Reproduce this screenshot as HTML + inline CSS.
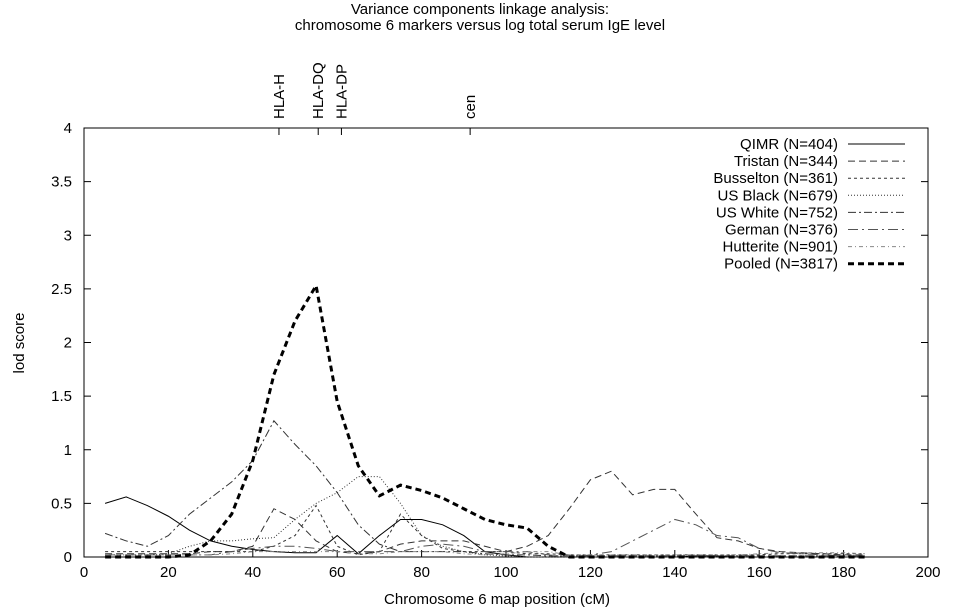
<!DOCTYPE html>
<html><head><meta charset="utf-8"><style>
body{margin:0;background:#fff}
svg{display:block;font-family:"Liberation Sans",sans-serif}
</style></head><body>
<svg id="c" width="960" height="609"></svg>
<script>
const positions=[5,10,15,20,25,30,35,40,45,50,55,60,65,70,75,80,85,90,95,100,105,110,115,120,125,130,135,140,145,150,155,160,165,170,175,180,185];
const qimr=[0.5,0.56,0.48,0.38,0.25,0.15,0.1,0.07,0.05,0.04,0.04,0.2,0.03,0.2,0.35,0.35,0.3,0.2,0.05,0.02,0,0,0,0,0,0,0,0,0.01,0.01,0,0,0,0,0,0,0];
const tristan=[0.03,0.03,0.03,0.03,0.03,0.05,0.05,0.1,0.45,0.35,0.15,0.05,0.03,0.05,0.12,0.15,0.15,0.15,0.1,0.05,0.1,0.2,0.45,0.72,0.8,0.58,0.63,0.63,0.4,0.18,0.15,0.08,0.05,0.04,0.03,0.02,0.02];
const busselton=[0.05,0.05,0.05,0.05,0.05,0.05,0.05,0.05,0.1,0.2,0.48,0.1,0.02,0.05,0.4,0.2,0.08,0.05,0.05,0.05,0.03,0.03,0.02,0.02,0.02,0.02,0.02,0.02,0.02,0.02,0.02,0.02,0.03,0.03,0.03,0.03,0.03];
const usBlack=[0.02,0.02,0.02,0.03,0.1,0.15,0.15,0.17,0.18,0.35,0.5,0.6,0.75,0.75,0.5,0.2,0.1,0.05,0.02,0.01,0,0,0,0,0,0,0,0,0,0,0,0,0,0,0,0,0];
const usWhite=[0.22,0.15,0.1,0.2,0.4,0.55,0.7,0.9,1.27,1.05,0.85,0.6,0.3,0.12,0.05,0.05,0.05,0.05,0.03,0.02,0.02,0.01,0.01,0.01,0.01,0.01,0.01,0.01,0.01,0.01,0.01,0.01,0.01,0.01,0.01,0.01,0.01];
const german=[0.02,0.02,0.02,0.02,0.02,0.02,0.05,0.08,0.1,0.1,0.08,0.05,0.05,0.05,0.05,0.1,0.12,0.1,0.05,0.05,0.05,0.02,0,0.02,0.05,0.15,0.25,0.35,0.3,0.2,0.18,0.08,0.04,0.03,0.02,0.01,0.01];
const hutterite=[0.02,0.02,0.02,0.02,0.02,0.02,0.03,0.05,0.05,0.05,0.05,0.05,0.03,0.03,0.05,0.05,0.05,0.03,0.02,0.03,0.05,0.05,0.02,0.02,0.02,0.02,0.02,0.02,0.02,0.02,0.02,0.03,0.04,0.04,0.04,0.04,0.03];
const pooled=[0,0,0,0,0.02,0.15,0.4,0.9,1.7,2.2,2.53,1.45,0.85,0.57,0.67,0.62,0.55,0.45,0.35,0.3,0.27,0.1,0,0,0,0,0,0,0,0,0,0,0,0,0,0,0];
const seriesNames=["QIMR (N=404)","Tristan (N=344)","Busselton (N=361)","US Black (N=679)","US White (N=752)","German (N=376)","Hutterite (N=901)","Pooled (N=3817)"];
const xTicks=[0,20,40,60,80,100,120,140,160,180,200];
const yTicks=[0,0.5,1,1.5,2,2.5,3,3.5,4];
const yTickLabels=["0","0.5","1","1.5","2","2.5","3","3.5","4"];
const markerNames=["HLA-H","HLA-DQ","HLA-DP","cen"];
const markerPos=[46.2,55.5,61,91.5];

const L=84,R=928,T=128,B=557;
const X=v=>L+(v-0)/200*(R-L);
const Y=v=>B-(v-0)/4*(B-T);
const svg=document.getElementById('c');
const NS="http://www.w3.org/2000/svg";
function mk(tag,attrs,parent){const e=document.createElementNS(NS,tag);for(const k in attrs)e.setAttribute(k,attrs[k]);(parent||svg).appendChild(e);return e;}
function txt(s,x,y,anchor,size,extra){const t=mk('text',Object.assign({x:x,y:y,'text-anchor':anchor,'font-size':size,fill:'#000'},extra||{}));t.textContent=s;return t;}

let t;
t=txt("Variance components linkage analysis:",480,14,'middle',15);

t=txt("chromosome 6 markers versus log total serum IgE level",480,30,'middle',15);


const frame=mk('rect',{x:L,y:T,width:R-L,height:B-T,fill:'none',stroke:'#000','stroke-width':1});


xTicks.forEach((v,i)=>{
  const l=mk('line',{x1:X(v),x2:X(v),y1:B,y2:B-7,stroke:'#000'});
  
  const s=txt(String(v),X(v),B+20,'middle',15);
  
});
yTicks.forEach((v,i)=>{
  const l=mk('line',{x1:L,x2:L+7,y1:Y(v),y2:Y(v),stroke:'#000'});
  
  const l2=mk('line',{x1:R,x2:R-7,y1:Y(v),y2:Y(v),stroke:'#000'});
  
  const s=txt(yTickLabels[i],72,Y(v)+5,'end',15);
  
});
markerPos.forEach((p,i)=>{
  const l=mk('line',{x1:X(p),x2:X(p),y1:T,y2:T+7,stroke:'#000'});
  
  const s=txt(markerNames[i],X(p)+5,T-9,'start',15,{transform:`rotate(-90 ${X(p)+5} ${T-9})`});
  
});
t=txt("Chromosome 6 map position (cM)",497,604,'middle',15);

t=txt("lod score",24,343,'middle',15,{transform:'rotate(-90 24 343)'});


const data=[qimr,tristan,busselton,usBlack,usWhite,german,hutterite,pooled];
const styles=[
 {stroke:'#000',w:1,d:''},
 {stroke:'#333',w:1,d:'7,4'},
 {stroke:'#333',w:1,d:'3,3'},
 {stroke:'#333',w:1,d:'1,2'},
 {stroke:'#333',w:1,d:'8,3,2,3'},
 {stroke:'#555',w:1,d:'10,4,2,4'},
 {stroke:'#888',w:1,d:'4,3,1,3'},
 {stroke:'#000',w:3,d:'6,4'}];
const keys=['qimr','tristan','busselton','us-black','us-white','german','hutterite','pooled'];
data.forEach((arr,si)=>{
  const st=styles[si];
  const pts=arr.map((v,i)=>X(positions[i])+','+Y(v)).join(' ');
  const pl=mk('polyline',{points:pts,fill:'none',stroke:st.stroke,'stroke-width':st.w,'stroke-dasharray':st.d});
  
  const ly=144+si*17.1;
  const s=txt(seriesNames[si],838,ly+5,'end',15);
  
  const ll=mk('line',{x1:848,x2:905,y1:ly,y2:ly,stroke:st.stroke,'stroke-width':st.w,'stroke-dasharray':st.d});
  
});
</script>
</body></html>
